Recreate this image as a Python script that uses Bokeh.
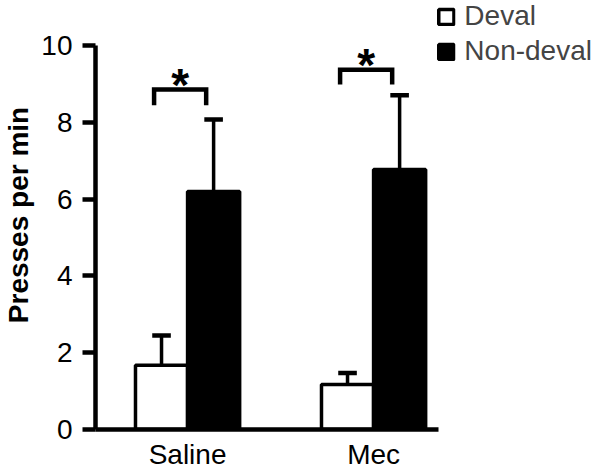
from bokeh.plotting import figure
from bokeh.models import Range1d, FixedTicker, Legend, LegendItem
from bokeh.embed import file_html
from bokeh.resources import INLINE
from bokeh.core.properties import value

# ---- data ----
groups = ["Saline", "Mec"]
series = ["Deval", "Non-deval"]
deval_mean = [1.67, 1.17]
deval_err = [0.78, 0.30]
nondeval_mean = [6.20, 6.77]
nondeval_err = [1.87, 1.93]
y_ticks = [0, 2, 4, 6, 8, 10]

# significance annotations: bracket top / feet (y units) and label
sig_top = [8.85, 9.37]
sig_foot = [8.44, 8.98]
sig_label = ["*", "*"]

# ---- styles / layout ----
FONT = "Liberation Sans"
dodge = 0.14
bar_w = 0.28
cap = 0.05
br_shift = -0.04

xs = [i + 1 for i in range(len(groups))]
x_dev = [x - dodge for x in xs]
x_non = [x + dodge for x in xs]

p = figure(frame_width=497, frame_height=429,
           x_range=Range1d(0.505, 3.177), y_range=Range1d(0, 11.17),
           output_backend="svg", toolbar_location=None,
           min_border_left=89, min_border_right=0, min_border_top=0, min_border_bottom=38)
p.outline_line_color = None
p.xgrid.visible = False
p.ygrid.visible = False
p.background_fill_color = "white"

# error bars
for xv, m, e in ((x_dev, deval_mean, deval_err), (x_non, nondeval_mean, nondeval_err)):
    tops = [a + b for a, b in zip(m, e)]
    p.segment(x0=xv, y0=m, x1=xv, y1=tops, line_color="black", line_width=3.5)
    p.segment(x0=[x - cap for x in xv], y0=tops, x1=[x + cap for x in xv], y1=tops,
              line_color="black", line_width=4.5)

r_dev = p.vbar(x=x_dev, top=deval_mean, width=bar_w, fill_color="white",
               line_color="black", line_width=3.5)
r_non = p.vbar(x=x_non, top=nondeval_mean, width=bar_w, fill_color="black",
               line_color="black", line_width=3.5)

# significance brackets
bx, by = [], []
for i, x in enumerate(xs):
    a = x - dodge + br_shift
    b = x + dodge + br_shift
    bx.append([a, a, b, b])
    by.append([sig_foot[i], sig_top[i], sig_top[i], sig_foot[i]])
p.multi_line(xs=bx, ys=by, line_color="black", line_width=4.5, line_join="miter")
p.text(x=[x + br_shift for x in xs], y=sig_top, text=sig_label,
       text_font=value(FONT), text_font_style="bold", text_font_size="46px",
       text_align="center", text_baseline="alphabetic", y_offset=-5, text_color="black")

# axes
ya = p.yaxis[0]
ya.ticker = FixedTicker(ticks=y_ticks)
ya.bounds = (0, 10)
ya.axis_line_width = 4.5
ya.major_tick_line_width = 4.5
ya.major_tick_out = 13
ya.major_tick_in = 0
ya.minor_tick_line_color = None
ya.major_label_text_font = FONT
ya.major_label_text_font_size = "28px"
ya.major_label_text_color = "black"
ya.major_label_standoff = 10
ya.axis_label = "Presses per min"
ya.axis_label_text_font = FONT
ya.axis_label_text_font_style = "bold"
ya.axis_label_text_font_size = "28px"
ya.axis_label_text_color = "black"
ya.axis_label_standoff = 4

xa = p.xaxis[0]
xa.ticker = FixedTicker(ticks=xs)
xa.major_label_overrides = {x: g for x, g in zip(xs, groups)}
xa.bounds = (0.505, 2.35)
xa.axis_line_width = 4.5
xa.major_tick_out = 0
xa.major_tick_in = 0
xa.minor_tick_line_color = None
xa.major_label_text_font = FONT
xa.major_label_text_font_size = "28px"
xa.major_label_text_color = "black"
xa.major_label_standoff = 9

legend = Legend(items=[LegendItem(label=series[0], renderers=[r_dev]),
                       LegendItem(label=series[1], renderers=[r_non])],
                location="top_right", glyph_width=19, glyph_height=19,
                label_text_font=FONT, label_text_font_size="28px",
                label_standoff=9, spacing=3, padding=0, margin=0,
                border_line_color=None, background_fill_alpha=0)
p.add_layout(legend)

open("out.html", "w").write(file_html(p, INLINE))
